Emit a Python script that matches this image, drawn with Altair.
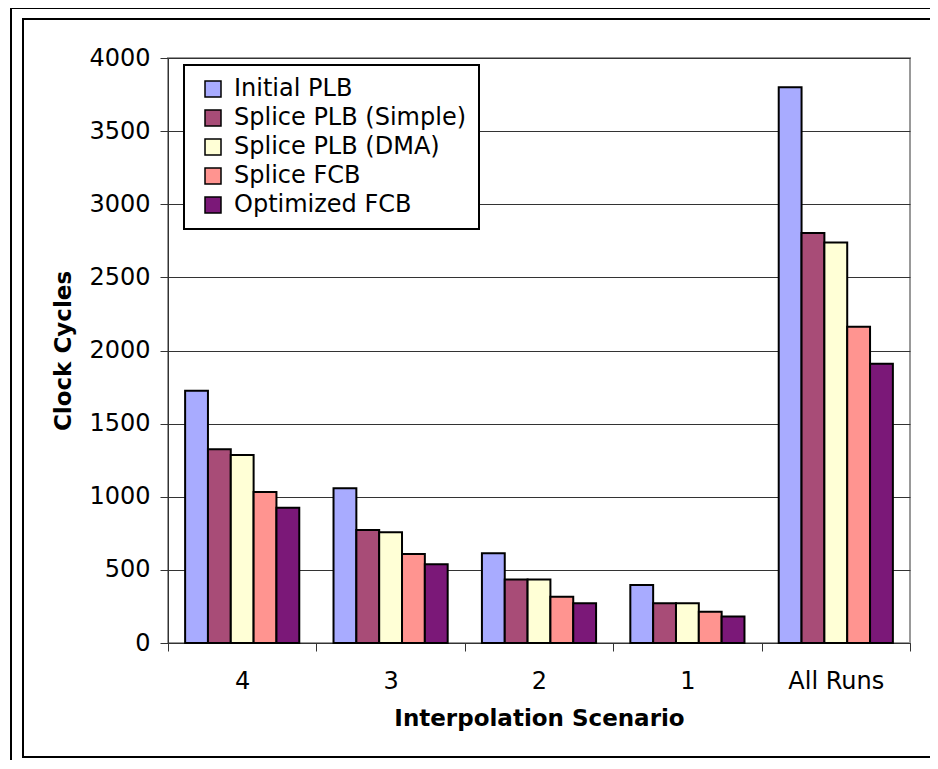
import altair as alt
import pandas as pd

categories = ["4", "3", "2", "1", "All Runs"]
series_names = ["Initial PLB", "Splice PLB (Simple)", "Splice PLB (DMA)", "Splice FCB", "Optimized FCB"]
initial_plb = [1725, 1058, 613, 397, 3800]
splice_simple = [1324, 773, 435, 271, 2803]
splice_dma = [1285, 757, 435, 271, 2739]
splice_fcb = [1032, 608, 317, 214, 2163]
optimized_fcb = [925, 538, 271, 182, 1910]
colors = ["#A8ABFF", "#A84C77", "#FFFFD6", "#FF9490", "#7B1878"]
y_ticks = [0, 500, 1000, 1500, 2000, 2500, 3000, 3500, 4000]

rows = []
for s, vals in zip(series_names, [initial_plb, splice_simple, splice_dma, splice_fcb, optimized_fcb]):
    for c, v in zip(categories, vals):
        rows.append({"Scenario": c, "Series": s, "Cycles": v})
df = pd.DataFrame(rows)

FONT = "DejaVu Sans"
W, H = 742, 585

bars = alt.Chart(df).mark_bar(stroke="black", strokeWidth=2).encode(
    x=alt.X("Scenario:N", sort=categories,
            scale=alt.Scale(paddingInner=0, paddingOuter=0),
            axis=alt.Axis(title="Interpolation Scenario", labelAngle=0, tickBand="extent",
                          grid=False, labelFontSize=24, labelFont=FONT, labelColor="black",
                          labelPadding=18, tickSize=8, tickColor="#333", domainColor="#333",
                          titleFontSize=23, titleFont=FONT, titleFontWeight="bold",
                          titleColor="black", titleY=75, titleBaseline="middle")),
    xOffset=alt.XOffset("Series:N", sort=series_names,
                        scale=alt.Scale(paddingInner=0, paddingOuter=0.75)),
    y=alt.Y("Cycles:Q", scale=alt.Scale(domain=[0, 4000], nice=False),
            axis=alt.Axis(values=y_ticks, format="d", title="Clock Cycles", labelFontSize=24,
                          labelFont=FONT, labelColor="black", labelPadding=10, tickSize=8,
                          tickColor="#333", domainColor="#333", gridColor="#333",
                          titleFontSize=23, titleFont=FONT, titleFontWeight="bold",
                          titleColor="black", titleX=-105, titleY=H / 2,
                          titleAlign="center", titleBaseline="middle")),
    color=alt.Color("Series:N", sort=series_names,
                    scale=alt.Scale(domain=series_names, range=colors),
                    legend=alt.Legend(title=None, orient="none", legendX=16, legendY=7,
                                      fillColor="white", strokeColor="black", padding=12,
                                      symbolType="square", symbolSize=256,
                                      symbolStrokeColor="black", symbolStrokeWidth=1.5,
                                      labelFontSize=24, labelFont=FONT, labelColor="black",
                                      labelLimit=500, rowPadding=5, labelOffset=9,
                                      symbolOffset=5)),
)

one = alt.Data(values=[{"a": 1}])

def rule(x, x2, y, y2, w):
    return alt.Chart(one).mark_rule(color="black", strokeWidth=w).encode(
        x=alt.value(x), x2=alt.value(x2), y=alt.value(y), y2=alt.value(y2))

frame = [
    rule(-157, -157, -50, 720, 2),   # outer left
    rule(-158, 800, -50, -50, 2),    # outer top
    rule(-145, -145, -39, 699, 2),   # inner left
    rule(-146, 800, -39, -39, 2),    # inner top
    rule(-146, 800, 699, 699, 2),    # inner bottom
]

chart = alt.layer(*frame, bars).properties(
    width=W, height=H,
    autosize=alt.AutoSizeParams(type="none"),
    padding={"left": 160, "top": 50, "right": 20, "bottom": 117},
    background="white",
).configure(font=FONT).configure_view(
    stroke="#999", strokeWidth=2
).configure_legend(strokeWidth=2)

chart.save("out.html", embed_options={"renderer": "svg", "actions": False})
